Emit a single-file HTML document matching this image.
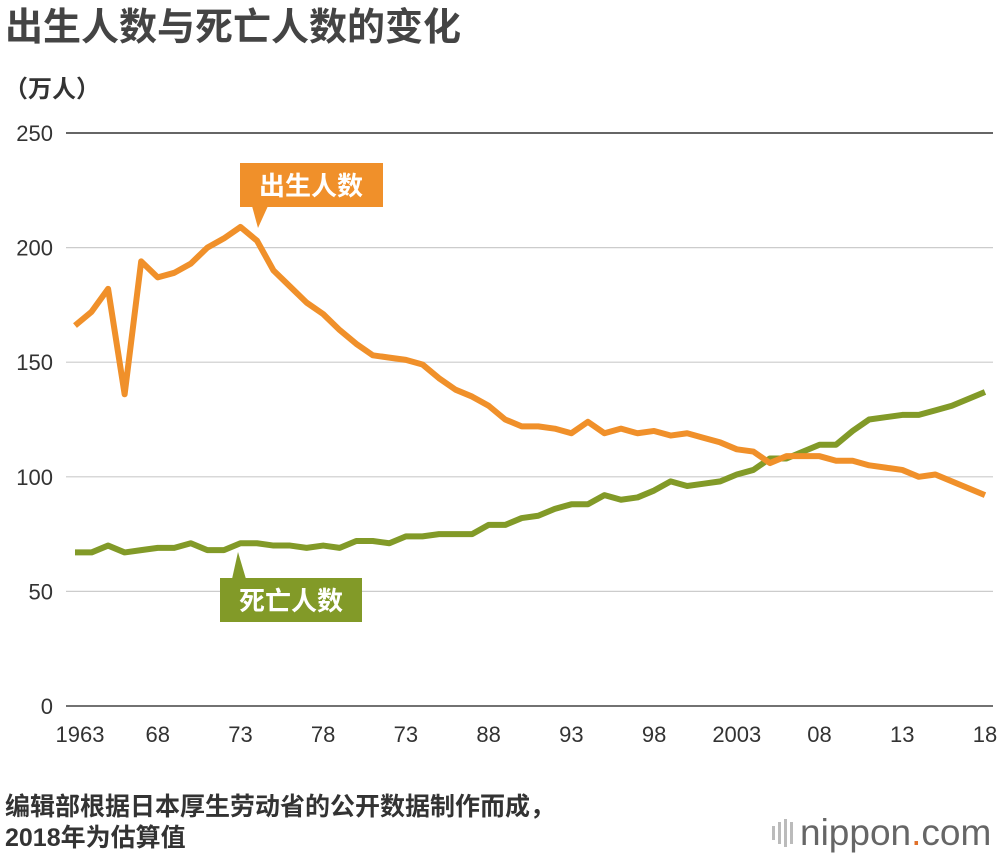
<!DOCTYPE html>
<html><head><meta charset="utf-8"><style>
body{margin:0;background:#fff;width:1000px;height:856px;overflow:hidden;font-family:"Liberation Sans","Noto Sans CJK SC",sans-serif;color:#333}
</style></head><body>
<svg width="1000" height="856" style="position:absolute;left:0;top:0">
<text x="5" y="40" font-size="38" font-weight="bold" fill="#444" font-family="Liberation Sans, Noto Sans CJK SC, sans-serif">出生人数与死亡人数的变化</text>
<text x="4" y="97" font-size="24" font-weight="bold" fill="#333" font-family="Liberation Sans, Noto Sans CJK SC, sans-serif">（万人）</text>
<g id="grid"></g><g id="lines"></g><g id="xt"></g>
<g>
<rect x="240" y="163" width="143" height="44" fill="#f0902a"/>
<polygon points="252,206 268,206 258,228" fill="#f0902a"/>
<text x="311" y="195" font-size="26" font-weight="bold" fill="#fff" text-anchor="middle" font-family="Liberation Sans, Noto Sans CJK SC, sans-serif">出生人数</text></g>
<g>
<rect x="220" y="578" width="142" height="44" fill="#829a28"/>
<polygon points="232,579 246,579 238,552" fill="#829a28"/>
<text x="291" y="610" font-size="26" font-weight="bold" fill="#fff" text-anchor="middle" font-family="Liberation Sans, Noto Sans CJK SC, sans-serif">死亡人数</text></g>
<text x="5" y="815" font-size="25" font-weight="bold" fill="#333" font-family="Liberation Sans, Noto Sans CJK SC, sans-serif">编辑部根据日本厚生劳动省的公开数据制作而成，</text>
<text x="5" y="846" font-size="25" font-weight="bold" fill="#333" font-family="Liberation Sans, Noto Sans CJK SC, sans-serif">2018年为估算值</text>
<g>
<rect x="772" y="826" width="3" height="14" fill="#bbb"/><rect x="778" y="822" width="3" height="22" fill="#bbb"/><rect x="784" y="819" width="3" height="28" fill="#bbb"/><rect x="790" y="822" width="3" height="22" fill="#bbb"/>
<text x="800" y="845" font-size="37" fill="#666" font-family="Liberation Sans, sans-serif">nippon<tspan fill="#e0702a">.</tspan>com</text></g>
</svg>
<script>
const years=[];for(let y=1963;y<=2018;y++)years.push(y);
const births=[166,172,182,136,194,187,189,193,200,204,209,203,190,183,176,171,164,158,153,152,151,149,143,138,135,131,125,122,122,121,119,124,119,121,119,120,118,119,117,115,112,111,106,109,109,109,107,107,105,104,103,100,101,98,95,92];
const deaths=[67,67,70,67,68,69,69,71,68,68,71,71,70,70,69,70,69,72,72,71,74,74,75,75,75,79,79,82,83,86,88,88,92,90,91,94,98,96,97,98,101,103,108,108,111,114,114,120,125,126,127,127,129,131,134,137];
const yTicks=[0,50,100,150,200,250];
const xTickYears=[1963,1968,1973,1978,1983,1988,1993,1998,2003,2008,2013,2018];
const xTickLabels=["1963","68","73","78","73","88","93","98","2003","08","13","18"];
const NS="http://www.w3.org/2000/svg";
const X=y=>75+(y-1963)*16.545, Y=v=>706-v*2.292;
function mk(t,a,p){const e=document.createElementNS(NS,t);for(const k in a)e.setAttribute(k,a[k]);p.appendChild(e);return e;}
const g=document.getElementById('grid');
yTicks.forEach(v=>{
 const l=mk('line',{x1:66,x2:993,y1:Y(v),y2:Y(v),stroke:v==250?'#333':(v==0?'#444':'#ccc'),'stroke-width':v==0||v==250?1.5:1.2},g);
 
 
 const t=mk('text',{x:53,y:Y(v)+8,'font-size':22,'text-anchor':'end',fill:'#333'},g);t.textContent=v;
 
 
});
const xt=document.getElementById('xt');
xTickYears.forEach((yr,i)=>{
 const t=mk('text',{x:X(yr)+(i==0?5:0),y:742,'font-size':22,'text-anchor':'middle',fill:'#333'},xt);t.textContent=xTickLabels[i];
 
 
});
const L=document.getElementById('lines');
function line(d,c,n){const p=mk('polyline',{points:d.map((v,i)=>X(years[i])+','+Y(v)).join(' '),fill:'none',stroke:c,'stroke-width':6,'stroke-linejoin':'round'},L);
 
 }
line(deaths,'#829a28','deaths-line');
line(births,'#f0902a','births-line');
</script>
</body></html>
